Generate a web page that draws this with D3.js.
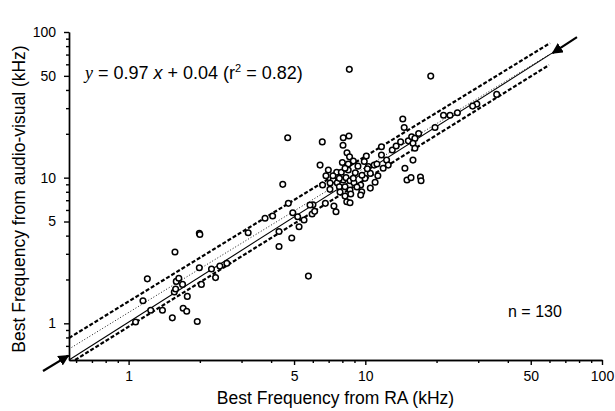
<!DOCTYPE html>
<html>
<head>
<meta charset="utf-8">
<script src="https://cdn.jsdelivr.net/npm/d3@7"></script>
<style>
  body { margin: 0; background: #fff; }
  svg { font-family: "Liberation Sans", Arial, sans-serif; }
  .axis path, .axis line { stroke: #000; stroke-width: 1.4; }
  .axis text { font-size: 14px; fill: #000; }
</style>
</head>
<body>
<div id="chart"></div>
<script>

// best frequency (kHz)
var raBF = [1.07,1.15,1.20,1.24,1.39,1.53,1.57,1.56,1.58,1.59,1.63,1.69,1.70,1.76,1.77,1.95,1.99,2.00,1.99,2.03,
  2.24,2.33,2.43,2.60,3.20,3.77,4.06,4.32,4.32,4.73,4.89,4.94,5.18,5.25,5.51,5.75,5.96,6.11,6.01,5.84,
  4.70,6.58,4.48,6.44,6.98,8.07,8.53,8.05,8.37,8.58,8.90,8.47,7.57,7.92,8.47,9.07,7.32,7.61,8.07,8.29,
  8.62,8.96,9.56,9.97,7.09,7.77,8.21,8.62,8.21,8.68,8.35,8.62,10.1,10.5,11.3,10.9,11.7,12.3,12.5,11.7,
  14.4,14.6,14.1,14.7,15.0,15.6,17.1,17.2,15.9,15.2,15.7,16.2,15.9,16.2,16.8,19.7,21.4,22.8,24.5,29.6,
  28.4,35.9,7.37,7.52,6.78,8.56,18.9,10.5,11.2,10.3,11.9,9.68,9.22,7.82,7.30,6.82,10.2,7.77,9.66,9.31,
  8.21,13.0,13.5,9.56,8.9,7.1,9.9,8.0,6.6,11.0];
var avBF = [1.02,1.43,2.02,1.23,1.23,1.09,3.09,1.64,1.72,1.94,2.04,1.85,1.27,1.21,1.53,1.03,4.15,4.07,2.41,1.85,
  2.36,2.06,2.47,2.58,4.19,5.26,5.45,4.27,3.37,6.66,3.85,5.74,5.39,4.60,5.12,2.11,5.63,5.87,6.52,6.49,
  18.8,17.6,9.00,12.2,11.3,18.8,19.3,16.7,14.8,13.9,13.0,12.4,10.9,10.9,11.3,10.8,9.63,9.23,9.63,10.0,
  9.52,9.23,8.90,9.89,8.31,8.66,8.66,8.22,7.47,7.72,6.83,6.73,14.1,8.48,10.3,12.2,16.3,13.2,12.2,14.3,
  25.3,22.1,17.6,11.6,9.63,10.0,10.1,9.52,13.2,17.9,19.1,18.6,17.2,15.9,20.1,22.1,26.8,26.8,27.9,32.0,
  31.0,37.3,6.38,5.83,6.66,55.4,49.8,10.7,12.4,11.9,11.6,10.4,8.62,7.96,10.3,10.3,11.5,9.89,8.00,12.0,
  11.6,15.5,16.5,7.59,9.9,9.2,12.9,12.7,8.9,9.3];

// lines (end points, kHz)
var unityLine = [[0.56, 0.56], [61.5, 71.6]];
var fitLine = [[0.56, 0.666], [60.3, 70.5]];
var upperBand = [[0.56, 0.793], [60.3, 83.9]];
var lowerBand = [[0.594, 0.56], [59.7, 59.3]];
var arrows = [[[78.4, 92.3], [61.8, 71.6]], [[0.435, 0.471], [0.557, 0.60]]];

var majorTicks = [1, 5, 10, 50, 100];
var minorTicks = [0.6, 0.7, 0.8, 0.9, 2, 3, 4, 6, 7, 8, 9, 20, 30, 40, 60, 70, 80, 90];

var svgWidth = 615, svgHeight = 411;
var margin = {top: 32, right: 13, bottom: 51, left: 69},
    width = svgWidth - margin.left - margin.right,
    height = svgHeight - margin.top - margin.bottom;

var svg = d3.select("#chart").append("svg")
  .attr("width", svgWidth)
  .attr("height", svgHeight);

var chartGroup = svg.append("g")
  .attr("transform", `translate(${margin.left}, ${margin.top})`);

var x = d3.scaleLog().domain([0.56, 100]).range([0, width]);
var y = d3.scaleLog().domain([0.56, 100]).range([height, 0]);

// axes: major + minor ticks
chartGroup.append("g")
  .attr("class", "axis")
  .attr("transform", `translate(0, ${height})`)
  .call(d3.axisBottom(x).tickValues(majorTicks).tickFormat(d3.format("")).tickSize(5).tickSizeOuter(0).tickPadding(6));

chartGroup.append("g")
  .attr("class", "axis")
  .attr("transform", `translate(0, ${height})`)
  .call(d3.axisBottom(x).tickValues(minorTicks).tickFormat("").tickSize(3).tickSizeOuter(0));

chartGroup.append("g")
  .attr("class", "axis")
  .call(d3.axisLeft(y).tickValues(majorTicks).tickFormat(d3.format("")).tickSize(5).tickSizeOuter(0).tickPadding(8));

chartGroup.append("g")
  .attr("class", "axis")
  .call(d3.axisLeft(y).tickValues(minorTicks).tickFormat("").tickSize(3).tickSizeOuter(0));

// regression lines
var line = d3.line()
  .x(d => x(d[0]))
  .y(d => y(d[1]));

chartGroup.append("path").datum(upperBand)
  .attr("d", line).attr("fill", "none").attr("stroke", "#000")
  .attr("stroke-width", 2.2).attr("stroke-dasharray", "4,2");
chartGroup.append("path").datum(lowerBand)
  .attr("d", line).attr("fill", "none").attr("stroke", "#000")
  .attr("stroke-width", 2.2).attr("stroke-dasharray", "4,2");
chartGroup.append("path").datum(fitLine)
  .attr("d", line).attr("fill", "none").attr("stroke", "#000")
  .attr("stroke-width", 0.9).attr("stroke-dasharray", "1,2");
chartGroup.append("path").datum(unityLine)
  .attr("d", line).attr("fill", "none").attr("stroke", "#000")
  .attr("stroke-width", 1.1);

// data points
chartGroup.selectAll("circle")
  .data(raBF)
  .enter()
  .append("circle")
  .attr("cx", d => x(d))
  .attr("cy", (d, i) => y(avBF[i]))
  .attr("r", 2.8)
  .attr("fill", "#fff")
  .attr("stroke", "#000")
  .attr("stroke-width", 1.5);

// arrows marking the unity line
svg.append("defs").append("marker")
  .attr("id", "head")
  .attr("viewBox", "0 0 10 10")
  .attr("refX", 9).attr("refY", 5)
  .attr("markerWidth", 5).attr("markerHeight", 5)
  .attr("orient", "auto")
  .append("path").attr("d", "M0,0L10,5L0,10z").attr("fill", "#000");

svg.append("g")
  .attr("transform", `translate(${margin.left}, ${margin.top})`)
  .selectAll("path")
  .data(arrows)
  .enter()
  .append("path")
  .attr("d", line)
  .attr("stroke", "#000")
  .attr("stroke-width", 2.2)
  .attr("marker-end", "url(#head)");

// texts
var eq = chartGroup.append("text")
  .attr("x", 16)
  .attr("y", 47)
  .style("font-size", "18px");
eq.append("tspan").style("font-family", "'Liberation Serif', serif").style("font-style", "italic").text("y");
eq.append("tspan").text(" = 0.97 ");
eq.append("tspan").style("font-style", "italic").text("x");
eq.append("tspan").text(" + 0.04 (r");
eq.append("tspan").attr("dy", -7).style("font-size", "11px").text("2");
eq.append("tspan").attr("dy", 7).text(" = 0.82)");

chartGroup.append("text")
  .attr("x", 439)
  .attr("y", 285)
  .style("font-size", "16px")
  .text("n = 130");

chartGroup.append("text")
  .attr("transform", `translate(${width / 2}, ${height + 44})`)
  .attr("text-anchor", "middle")
  .style("font-size", "17.5px")
  .text("Best Frequency from RA (kHz)");

chartGroup.append("text")
  .attr("transform", "rotate(-90)")
  .attr("x", 0 - (height / 2) - 3)
  .attr("y", 0 - margin.left + 25)
  .attr("text-anchor", "middle")
  .style("font-size", "17.5px")
  .text("Best Frequency from audio-visual (kHz)");

</script>
</body>
</html>
